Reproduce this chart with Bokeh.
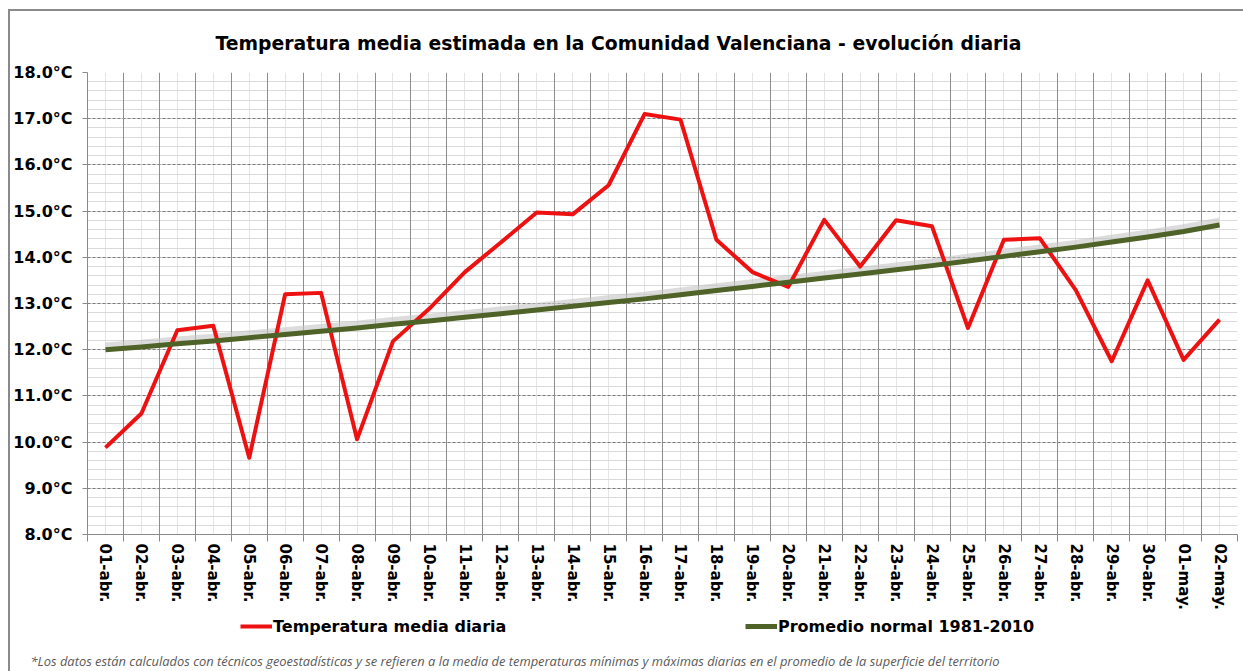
import math
from bokeh.plotting import figure
from bokeh.layouts import column
from bokeh.models import (FactorRange, Range1d, SingleIntervalTicker, FixedTicker, LinearAxis,
                          CategoricalAxis, Grid, PrintfTickFormatter, Legend, LegendItem, Title,
                          ColumnDataSource)
from bokeh.transform import dodge
from bokeh.embed import file_html
from bokeh.resources import INLINE

days = ["01-abr.", "02-abr.", "03-abr.", "04-abr.", "05-abr.", "06-abr.", "07-abr.", "08-abr.",
        "09-abr.", "10-abr.", "11-abr.", "12-abr.", "13-abr.", "14-abr.", "15-abr.", "16-abr.",
        "17-abr.", "18-abr.", "19-abr.", "20-abr.", "21-abr.", "22-abr.", "23-abr.", "24-abr.",
        "25-abr.", "26-abr.", "27-abr.", "28-abr.", "29-abr.", "30-abr.", "01-may.", "02-may."]

temp_media = [9.88, 10.62, 12.42, 12.52, 9.66, 13.20, 13.23, 10.06, 12.18, 12.88, 13.68, 14.32,
              14.97, 14.93, 15.56, 17.10, 16.98, 14.38, 13.68, 13.36, 14.81, 13.80, 14.80, 14.67,
              12.47, 14.38, 14.41, 13.29, 11.75, 13.50, 11.78, 12.65]

promedio_normal = [12.00, 12.06, 12.13, 12.19, 12.26, 12.33, 12.40, 12.47, 12.55, 12.62, 12.70,
                   12.78, 12.86, 12.94, 13.02, 13.10, 13.19, 13.28, 13.37, 13.46, 13.55, 13.64,
                   13.73, 13.82, 13.92, 14.02, 14.12, 14.22, 14.33, 14.44, 14.56, 14.70]

title_text = "Temperatura media estimada en la Comunidad Valenciana - evolución diaria"
label_temp = "Temperatura media diaria"
label_norm = "Promedio normal 1981-2010"
footnote = ("*Los datos están calculados con técnicos geoestadísticas y se refieren a la media de "
            "temperaturas mínimas y máximas diarias en el promedio de la superficie del territorio")

RED = "#ee1111"
GREEN = "#4f6228"
FONT = "DejaVu Sans"

src = ColumnDataSource(dict(day=days, temp=temp_media, normal=promedio_normal))
xr = FactorRange(factors=days)

# ---- main chart ----
p = figure(width=1233, height=601, x_range=xr, y_range=Range1d(8, 18),
           x_axis_location=None, y_axis_location=None, output_backend="svg",
           toolbar_location=None, min_border_left=77, min_border_right=6,
           min_border_top=60, min_border_bottom=78)
p.outline_line_color = None
p.background_fill_color = "white"
p.border_fill_color = "white"

yticker = SingleIntervalTicker(interval=1, num_minor_ticks=5)
yax = LinearAxis(ticker=yticker, formatter=PrintfTickFormatter(format="%.1f°C"),
                 major_tick_out=5, major_tick_in=0, minor_tick_line_color=None,
                 major_tick_line_color="#8a8a8a", axis_line_color="#8a8a8a",
                 major_label_text_font=FONT, major_label_text_font_style="bold",
                 major_label_text_font_size="16px", major_label_text_color="black",
                 major_label_standoff=10)
p.add_layout(yax, "left")

tax = LinearAxis(ticker=FixedTicker(ticks=list(range(33))), major_tick_out=7, major_tick_in=0,
                 major_tick_line_color="#8a8a8a", axis_line_color="#8a8a8a",
                 minor_tick_line_color=None, major_label_text_font_size="0px",
                 major_label_text_alpha=0, major_label_standoff=0)
p.add_layout(tax, "below")

cax = CategoricalAxis(major_label_orientation=-math.pi / 2, major_tick_line_color=None,
                      axis_line_color=None, major_label_text_font=FONT,
                      major_label_text_font_style="bold", major_label_text_font_size="15px",
                      major_label_text_color="black", major_label_standoff=-4)
p.add_layout(cax, "below")

ygrid = Grid(dimension=1, ticker=yticker, grid_line_color="#7a7a7a", grid_line_dash="3 2",
             minor_grid_line_color="#dadada")
xgrid = Grid(dimension=0, ticker=FixedTicker(ticks=list(range(33))), grid_line_color="#8e8e8e")
p.add_layout(ygrid)
p.add_layout(xgrid)

p.line(x="day", y=dodge("normal", 0.07, range=p.y_range), source=src, line_width=8,
       line_color="#c4c4c4", line_alpha=0.6)
p.line(x="day", y="temp", source=src, line_width=4, line_color=RED, line_join="round")
p.line(x="day", y="normal", source=src, line_width=5, line_color=GREEN, line_join="round")

p.add_layout(Title(text=title_text, align="left", offset=128, standoff=38, text_font=FONT,
                   text_font_style="bold", text_font_size="18.8px", text_color="black"), "above")

# ---- footer: legend + footnote (series drawn off-range, only their legend shows) ----
f = figure(width=1233, height=59, x_range=xr, y_range=Range1d(100, 101),
           x_axis_location=None, y_axis_location=None, output_backend="svg",
           toolbar_location=None, min_border=0, min_border_left=0, min_border_right=0,
           min_border_top=0, min_border_bottom=0)
f.outline_line_color = None
f.xgrid.visible = False
f.ygrid.visible = False

d_red = f.line(x="day", y="temp", source=src, line_width=4, line_color=RED)
d_green = f.line(x="day", y="normal", source=src, line_width=5, line_color=GREEN)

common = dict(border_line_color=None, background_fill_alpha=0, padding=0, margin=0,
              glyph_width=32, glyph_height=20, label_height=20, label_standoff=1,
              label_text_font=FONT, label_text_font_style="bold", label_text_font_size="16px",
              label_text_color="black", orientation="horizontal")
f.add_layout(Legend(items=[LegendItem(label=label_temp, renderers=[d_red])],
                    location=(153, 11), **common))
f.add_layout(Legend(items=[LegendItem(label=label_norm, renderers=[d_green])],
                    location=(658, 11), **common))
f.add_layout(Title(text=footnote, align="left", offset=-57, standoff=4, text_font="Open Sans",
                   text_font_style="italic", text_font_size="12.9px", text_color="#5a5a5a"),
             "below")

layout = column(p, f, spacing=0)
layout.styles = {"border-top": "2px solid #8a8a8a", "border-left": "2px solid #8a8a8a",
                 "margin-top": "9px", "margin-left": "8px"}

open("out.html", "w").write(file_html(layout, INLINE))
